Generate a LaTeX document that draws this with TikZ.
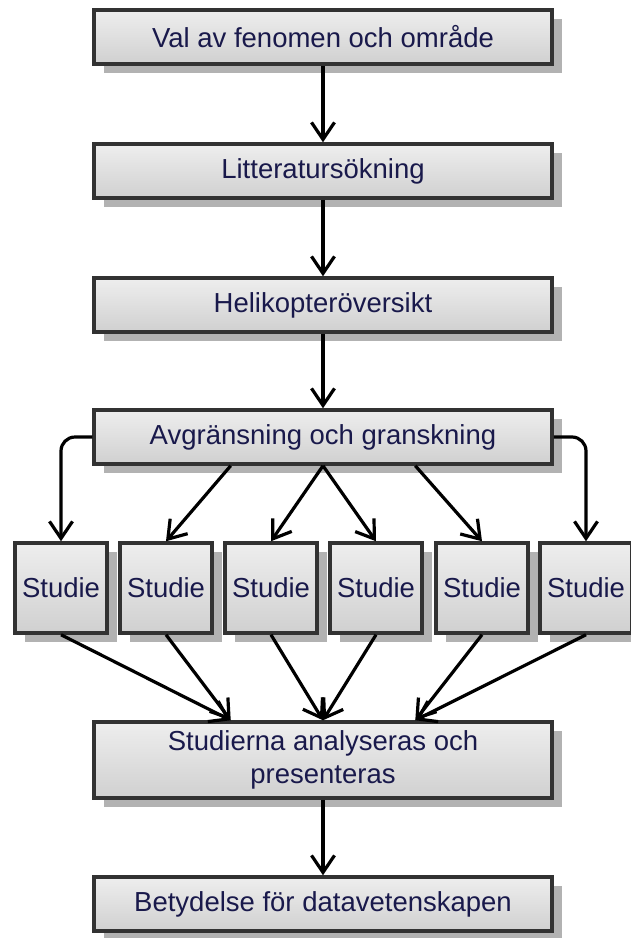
\documentclass[tikz,border=0pt]{standalone}
\usepackage{fontspec}
\setmainfont{Liberation Sans}
\usetikzlibrary{arrows.meta,positioning,calc,shadows}
\definecolor{txtcol}{RGB}{25,25,75}
\definecolor{edgecol}{RGB}{50,50,50}
\definecolor{shadecol}{RGB}{178,178,178}
\definecolor{topcol}{RGB}{238,238,238}
\definecolor{botcol}{RGB}{208,208,208}
\tikzset{
  stepbox/.style={rectangle, draw=edgecol, line width=3.5pt, top color=topcol, bottom color=botcol,
    text=txtcol, inner sep=0pt, align=center,
    drop shadow={shadow xshift=10pt, shadow yshift=-9pt, fill=shadecol, opacity=1}},
  widebox/.style={stepbox, minimum width=458pt, minimum height=54pt},
  studybox/.style={stepbox, minimum width=92pt, minimum height=90pt},
  flowarr/.style={-{Straight Barb[length=17pt,width=23pt,line width=3.2pt]}, line width=3.2pt, black},
}

\begin{document}
\begin{tikzpicture}[x=1pt, y=-1pt, font=\fontsize{27.5}{33}\selectfont]
    \useasboundingbox (0,0) rectangle (630,938);
    % main steps
    \node[widebox] (b1) at (323,37) {Val av fenomen och område};
    \node[widebox] (b2) at (323,171) {Litteratursökning};
    \node[widebox] (b3) at (323,305) {Helikopteröversikt};
    \node[widebox] (b4) at (323,437) {Avgränsning och granskning};
    % studies
    \foreach \i/\x in {1/61,2/166,3/271,4/376,5/482,6/586}
      \node[studybox] (s\i) at (\x,588) {Studie};
    \node[widebox, minimum height=76pt] (sa) at (323,760) {Studierna analyseras och\\presenteras};
    \node[widebox] (bd) at (323,904) {Betydelse för datavetenskapen};
    % split and merge points
    \coordinate (b4l) at ($(b4.south west)!0.3!(b4.south east)$);
    \coordinate (b4r) at ($(b4.south west)!0.7!(b4.south east)$);
    \coordinate (sal) at ($(sa.north west)!0.3!(sa.north east)$);
    \coordinate (sar) at ($(sa.north west)!0.7!(sa.north east)$);
    % arrows
    \draw[flowarr] (b1.south) -- (b2.north);
    \draw[flowarr] (b2.south) -- (b3.north);
    \draw[flowarr] (b3.south) -- (b4.north);
    \draw[flowarr, rounded corners=14pt] (b4.west) -| (s1.north);
    \draw[flowarr, rounded corners=14pt] (b4.east) -| (s6.north);
    \draw[flowarr] (b4l) -- (s2.north);
    \draw[flowarr] (b4.south) -- (s3.north);
    \draw[flowarr] (b4.south) -- (s4.north);
    \draw[flowarr] (b4r) -- (s5.north);
    \foreach \i in {1,2} \draw[flowarr] (s\i.south) -- (sal);
    \foreach \i in {3,4} \draw[flowarr] (s\i.south) -- (sa.north);
    \foreach \i in {5,6} \draw[flowarr] (s\i.south) -- (sar);
    \draw[flowarr] (sa.south) -- (bd.north);
  \end{tikzpicture}
\end{document}
